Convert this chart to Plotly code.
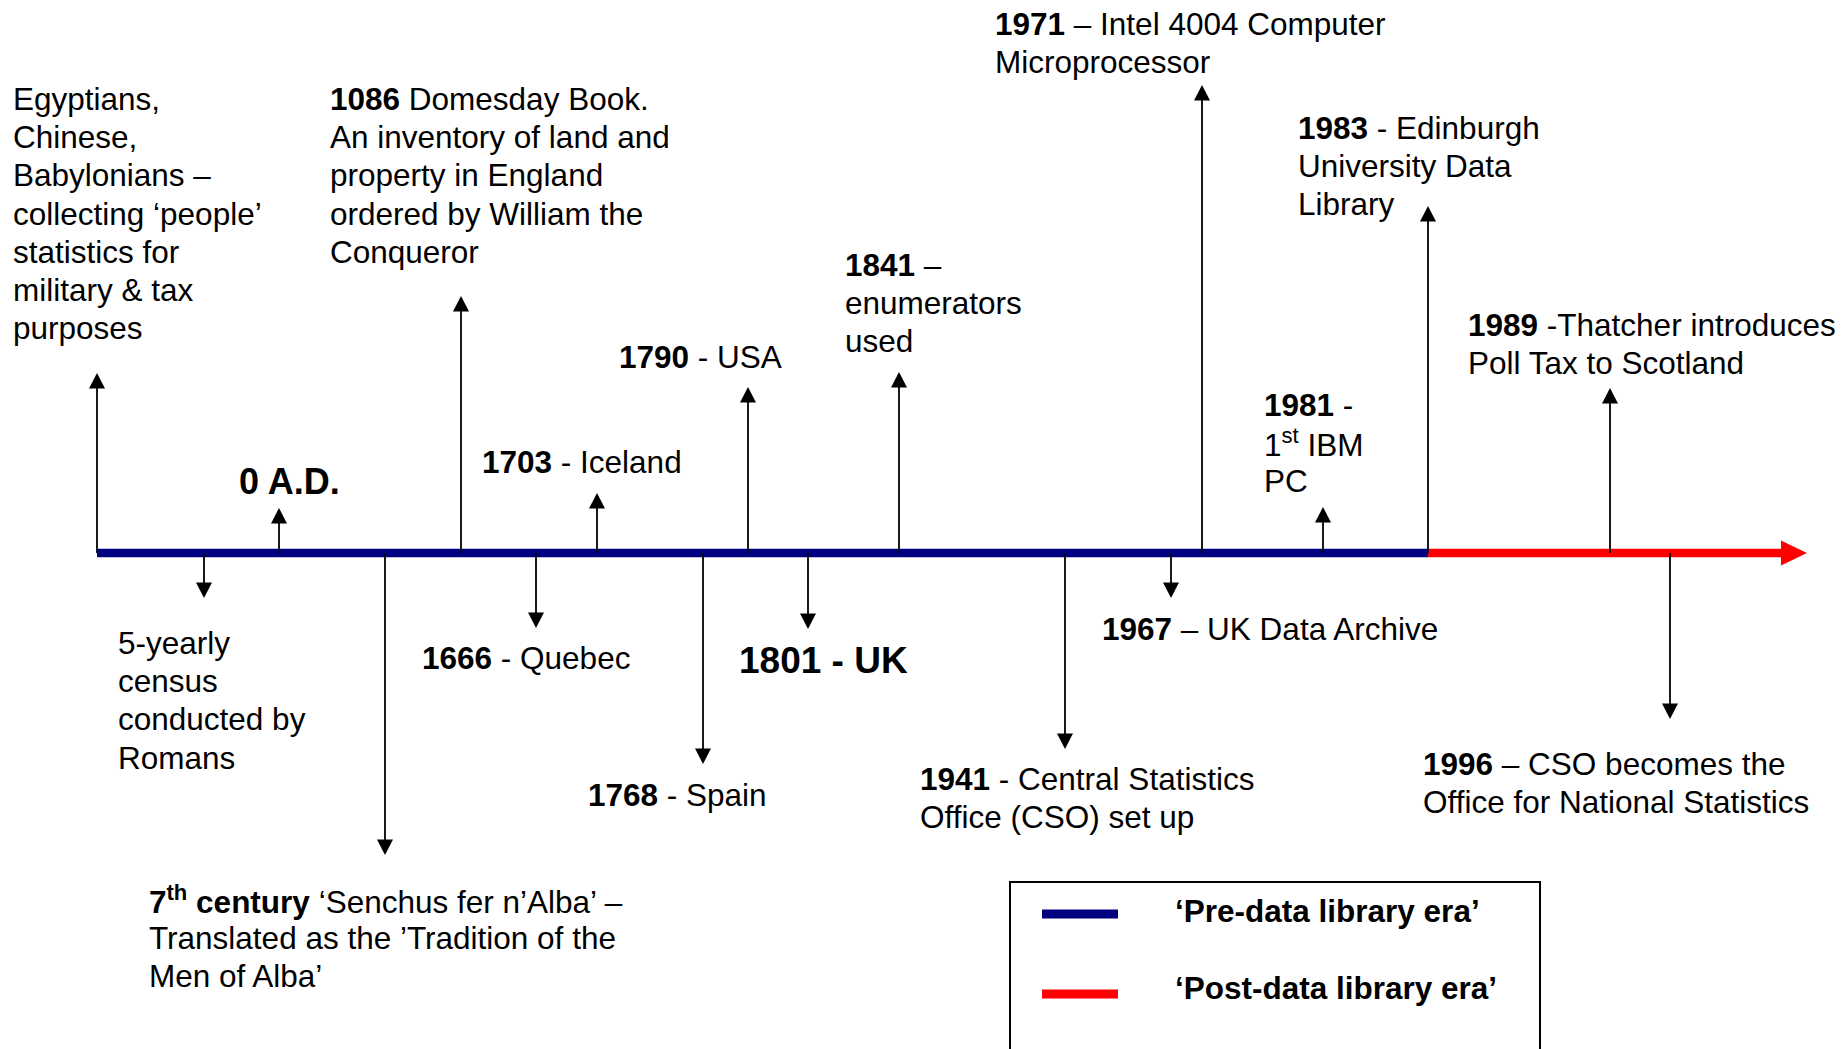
import plotly.graph_objects as go

# ---------------- data ----------------
# Events drawn above the timeline: place on the timeline axis and where the pointer reaches
up_pos = [97, 279, 461, 597, 748, 899, 1202, 1323, 1428, 1610]
up_reach = [373, 508, 296, 493, 387, 372, 85, 507, 206, 388]
up_text = [
    ["Egyptians,", "Chinese,", "Babylonians –", "collecting ‘people’", "statistics for",
     "military &amp; tax", "purposes"],
    ["<b>0 A.D.</b>"],
    ["<b>1086</b> Domesday Book.", "An inventory of land and", "property in England",
     "ordered by William the", "Conqueror"],
    ["<b>1703</b> - Iceland"],
    ["<b>1790</b> - USA"],
    ["<b>1841</b> –", "enumerators", "used"],
    ["<b>1971</b> – Intel 4004 Computer", "Microprocessor"],
    ["<b>1981</b> -", "1<sup>st</sup> IBM", "PC"],
    ["<b>1983</b> - Edinburgh", "University Data", "Library"],
    ["<b>1989</b> -Thatcher introduces", "Poll Tax to Scotland"],
]

# Events drawn below the timeline
down_pos = [204, 385, 536, 703, 808, 1065, 1171, 1670]
down_reach = [598, 855, 628, 764, 629, 749, 598, 719]
down_text = [
    ["5-yearly", "census", "conducted by", "Romans"],
    ["<b>7<sup>th</sup> century</b> ‘Senchus fer n’Alba’ –",
     "Translated as the ’Tradition of the", "Men of Alba’"],
    ["<b>1666</b> - Quebec"],
    ["<b>1768</b> - Spain"],
    ["<b>1801 - UK</b>"],
    ["<b>1941</b> - Central Statistics", "Office (CSO) set up"],
    ["<b>1967</b> – UK Data Archive"],
    ["<b>1996</b> – CSO becomes the", "Office for National Statistics"],
]

# Eras along the timeline (start, split, end)
era_names = ["‘Pre-data library era’", "‘Post-data library era’"]
era_bounds = [97, 1428, 1807]

# ---------------- layout / style ----------------
W, H = 1843, 1049
AXIS_Y = 553
FONT = "Liberation Sans, Arial, Helvetica, sans-serif"
BASE_SIZE = 31.5
LINE_GAP = 38.2
ERA_COLORS = ["#000080", "#ff0000"]

up_label_xy = [(11, 99), (237, 481), (328, 99), (480, 462), (617, 357),
               (843, 265), (993, 23.5), (1262, 405), (1296, 128), (1466, 325)]
down_label_xy = [(116, 643), (147, 900), (420, 658), (586, 795), (737, 660),
                 (918, 779), (1100, 629), (1421, 764)]
special_size = {"<b>0 A.D.</b>": 36, "<b>1801 - UK</b>": 37}

HEAD_HALF = 8
HEAD_LEN = 15.5

fig = go.Figure()

# timeline bands
for i in range(2):
    x0 = era_bounds[i]
    x1 = era_bounds[i + 1] - (26 if i == 1 else 0)
    fig.add_trace(go.Scatter(x=[x0, x1], y=[AXIS_Y, AXIS_Y], mode="lines",
                             line=dict(color=ERA_COLORS[i], width=8.5),
                             hoverinfo="skip"))
# timeline arrow head
tip = era_bounds[2]
fig.add_trace(go.Scatter(x=[tip - 26, tip, tip - 26, tip - 26],
                         y=[AXIS_Y - 12.5, AXIS_Y, AXIS_Y + 12.5, AXIS_Y - 12.5],
                         mode="lines", fill="toself", fillcolor=ERA_COLORS[1],
                         line=dict(color=ERA_COLORS[1], width=0), hoverinfo="skip"))

# stems
sx, sy = [], []
for p, r in zip(up_pos, up_reach):
    sx += [p, p, None]
    sy += [AXIS_Y, r + HEAD_LEN - 1, None]
for p, r in zip(down_pos, down_reach):
    sx += [p, p, None]
    sy += [AXIS_Y, r - HEAD_LEN + 1, None]
fig.add_trace(go.Scatter(x=sx, y=sy, mode="lines", line=dict(color="black", width=1.8),
                         hoverinfo="skip", connectgaps=False))

# arrow heads
for p, r in zip(up_pos, up_reach):
    fig.add_trace(go.Scatter(x=[p - HEAD_HALF, p, p + HEAD_HALF, p - HEAD_HALF],
                             y=[r + HEAD_LEN, r, r + HEAD_LEN, r + HEAD_LEN],
                             mode="lines", fill="toself", fillcolor="black",
                             line=dict(color="black", width=0), hoverinfo="skip"))
for p, r in zip(down_pos, down_reach):
    fig.add_trace(go.Scatter(x=[p - HEAD_HALF, p, p + HEAD_HALF, p - HEAD_HALF],
                             y=[r - HEAD_LEN, r, r - HEAD_LEN, r - HEAD_LEN],
                             mode="lines", fill="toself", fillcolor="black",
                             line=dict(color="black", width=0), hoverinfo="skip"))

# labels
annotations = []
for lines, (lx, ly) in list(zip(up_text, up_label_xy)) + list(zip(down_text, down_label_xy)):
    for k, line in enumerate(lines):
        size = special_size.get(line, BASE_SIZE)
        annotations.append(dict(x=lx, y=ly + k * LINE_GAP, xref="x", yref="y",
                                text=line, showarrow=False, xanchor="left",
                                yanchor="middle", align="left",
                                font=dict(family=FONT, size=size, color="black")))

# legend box
fig.add_trace(go.Scatter(x=[1010, 1010, 1540, 1540], y=[H + 5, 882, 882, H + 5],
                         mode="lines", line=dict(color="black", width=2),
                         hoverinfo="skip"))
legend_line_y = [914, 994]
legend_text_y = [911, 988]
for i in range(2):
    fig.add_trace(go.Scatter(x=[1042, 1118], y=[legend_line_y[i], legend_line_y[i]],
                             mode="lines", line=dict(color=ERA_COLORS[i], width=9),
                             hoverinfo="skip"))
    annotations.append(dict(x=1173, y=legend_text_y[i], xref="x", yref="y",
                            text="<b>" + era_names[i] + "</b>", showarrow=False,
                            xanchor="left", yanchor="middle",
                            font=dict(family=FONT, size=BASE_SIZE, color="black")))

fig.update_layout(
    width=W, height=H, margin=dict(l=0, r=0, t=0, b=0),
    paper_bgcolor="white", plot_bgcolor="white", showlegend=False,
    xaxis=dict(range=[0, W], visible=False, fixedrange=True),
    yaxis=dict(range=[H, 0], visible=False, fixedrange=True),
    annotations=annotations,
)

fig.write_html("out.html", config={"displayModeBar": False},
               post_script="document.body.style.margin='0px';document.body.style.overflow='hidden';")
